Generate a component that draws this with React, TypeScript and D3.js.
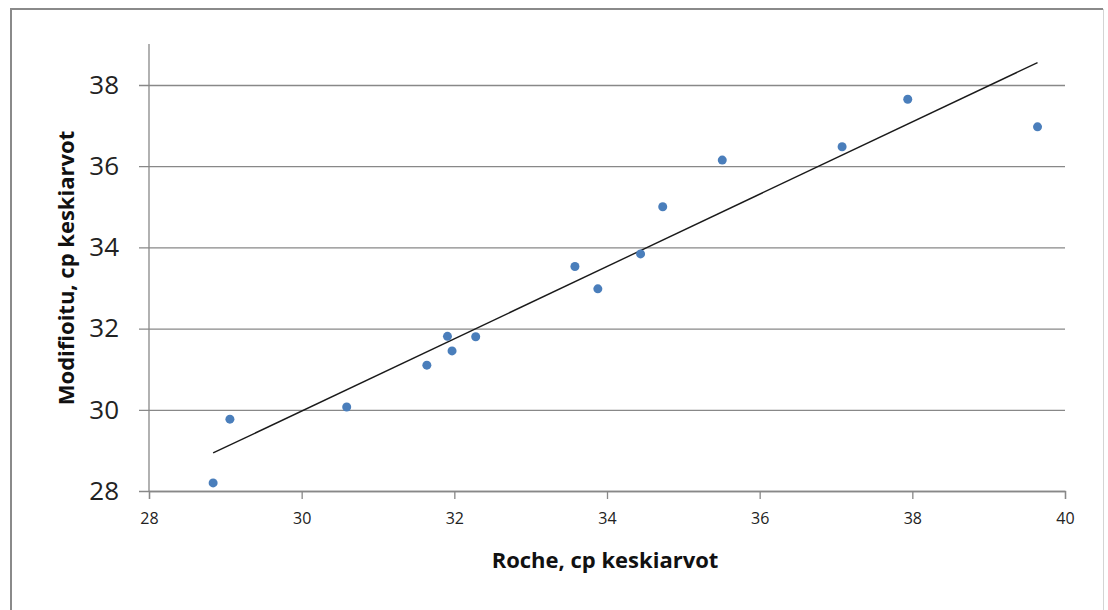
import { useEffect, useRef } from 'react'
import * as d3 from 'd3'

// Roche (x) vs modified (y) cp means
const rocheValues = [
  28.84, 29.06, 30.59, 31.64, 31.91, 31.97, 32.28, 33.58, 33.88, 34.44, 34.73,
  35.51, 37.08, 37.94, 39.64,
]
const modifiedValues = [
  28.2, 29.77, 30.07, 31.1, 31.81, 31.45, 31.8, 33.53, 32.98, 33.84, 35.0,
  36.15, 36.48, 37.65, 36.97,
]
const xTicks = [28, 30, 32, 34, 36, 38, 40]
const yTicks = [28, 30, 32, 34, 36, 38]
const xTitle = 'Roche, cp keskiarvot'
const yTitle = 'Modifioitu, cp keskiarvot'

const width = 1108
const height = 610

const App = () => {
  const svgRef = useRef<SVGSVGElement>(null)

  useEffect(() => {
    const left = 149
    const right = 1065
    const top = 44
    const bottom = 491
    const font = '"Open Sans", "DejaVu Sans", sans-serif'
    const gridColor = '#888888'

    const xScale = d3.scaleLinear([28, 40], [left, right])
    const yScale = d3.scaleLinear([28, 38], [bottom, 85])

    const svgEl = d3.select(svgRef.current)
    svgEl.selectAll('*').remove()

    svgEl.append('rect').attr('width', width).attr('height', height).attr('fill', '#fff')

    // frame
    svgEl
      .append('path')
      .attr('d', `M11,${height} L11,9 L1103,9`)
      .attr('fill', 'none')
      .attr('stroke', '#8a8a8a')
      .attr('stroke-width', 2)
    svgEl
      .append('line')
      .attr('x1', 1103.5)
      .attr('x2', 1103.5)
      .attr('y1', 9)
      .attr('y2', height)
      .attr('stroke', '#d4d4d4')
      .attr('stroke-width', 1)

    // horizontal grid + y ticks
    const yAxis = d3
      .axisLeft(yScale)
      .tickValues(yTicks)
      .tickFormat(d3.format('d'))
      .tickSize(-(right - left))
      .tickPadding(30)
    svgEl
      .append('g')
      .attr('transform', `translate(${left},0)`)
      .call(yAxis)
      .call((g) => g.select('.domain').remove())
      .call((g) =>
        g
          .selectAll('.tick line')
          .attr('x1', -10)
          .attr('stroke', gridColor)
          .attr('stroke-width', 1.3)
      )
      .call((g) =>
        g
          .selectAll('.tick text')
          .attr('fill', '#222')
          .style('font-family', font)
          .style('font-size', '26px')
      )

    // y axis line
    svgEl
      .append('line')
      .attr('x1', left)
      .attr('x2', left)
      .attr('y1', top)
      .attr('y2', bottom)
      .attr('stroke', gridColor)
      .attr('stroke-width', 1.3)

    // x axis
    const xAxis = d3
      .axisBottom(xScale)
      .tickValues(xTicks)
      .tickFormat(d3.format('d'))
      .tickSizeOuter(0)
      .tickSize(8)
      .tickPadding(14)
    svgEl
      .append('g')
      .attr('transform', `translate(0,${bottom})`)
      .call(xAxis)
      .call((g) => g.select('.domain').attr('stroke', gridColor).attr('stroke-width', 1.3))
      .call((g) => g.selectAll('.tick line').attr('stroke', gridColor).attr('stroke-width', 1.3))
      .call((g) =>
        g
          .selectAll('.tick text')
          .attr('fill', '#222')
          .style('font-family', font)
          .style('font-size', '16px')
      )

    // trendline (least squares)
    const mx = d3.mean(rocheValues) as number
    const my = d3.mean(modifiedValues) as number
    const sxy = d3.sum(rocheValues, (x, i) => (x - mx) * (modifiedValues[i] - my))
    const sxx = d3.sum(rocheValues, (x) => (x - mx) * (x - mx))
    const slope = sxy / sxx
    const intercept = my - slope * mx
    const [xMin, xMax] = d3.extent(rocheValues) as [number, number]
    const trend = [xMin, xMax].map((x) => [x, slope * x + intercept] as [number, number])
    svgEl
      .append('path')
      .datum(trend)
      .attr(
        'd',
        d3
          .line<[number, number]>()
          .x((d) => xScale(d[0]))
          .y((d) => yScale(d[1]))
      )
      .attr('fill', 'none')
      .attr('stroke', '#1a1a1a')
      .attr('stroke-width', 1.4)

    // points
    svgEl
      .append('g')
      .selectAll('circle')
      .data(rocheValues)
      .join('circle')
      .attr('cx', (d) => xScale(d))
      .attr('cy', (d, i) => yScale(modifiedValues[i]))
      .attr('r', 4.5)
      .attr('fill', '#4a7ebb')

    // titles
    svgEl
      .append('text')
      .attr('x', 605)
      .attr('y', 568)
      .attr('text-anchor', 'middle')
      .style('font-family', font)
      .style('font-weight', '700')
      .style('font-size', '22px')
      .attr('fill', '#111')
      .text(xTitle)
    svgEl
      .append('text')
      .attr('transform', `translate(74,268) rotate(-90)`)
      .attr('text-anchor', 'middle')
      .style('font-family', font)
      .style('font-weight', '700')
      .style('font-size', '22px')
      .attr('fill', '#111')
      .text(yTitle)
  }, [])

  return (
    <div style={{ position: 'absolute', left: 0, top: 0 }}>
      <svg ref={svgRef} width={width} height={height} style={{ display: 'block' }} />
    </div>
  )
}

export default App
